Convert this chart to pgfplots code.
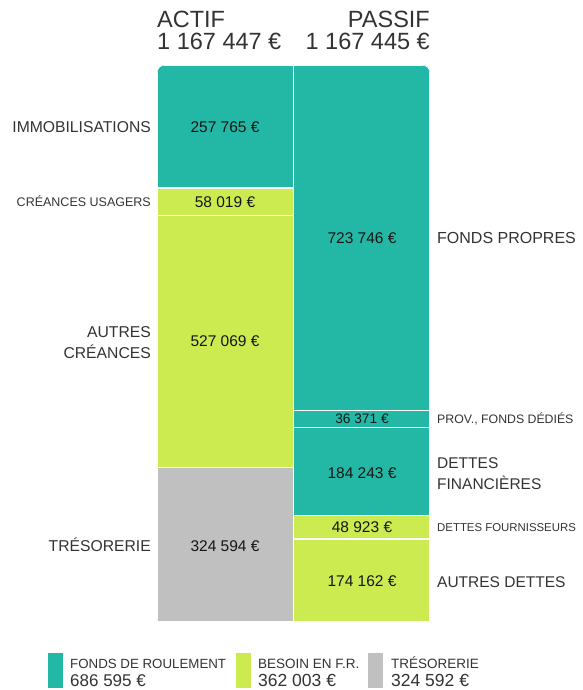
\documentclass[border=0pt]{standalone}
\usepackage{fontspec}
\setmainfont{Liberation Sans}
\usepackage{pgfplots}
\pgfplotsset{compat=1.18}
\definecolor{fr}{HTML}{23B8A5}
\definecolor{bfr}{HTML}{CCEB50}
\definecolor{treso}{HTML}{C0C0C0}
\definecolor{lbl}{HTML}{333333}
\definecolor{val}{HTML}{161616}
\newcommand\fs[1]{\fontsize{#1}{#1}\selectfont}
\begin{document}
\begin{tikzpicture}
\path (0pt,0pt) rectangle (582pt,-690pt);
\begin{scope}
\clip[rounded corners=4pt] (157pt,-400pt) -- (157pt,-622pt) -- (430pt,-622pt) -- (430pt,-400pt)
  [rounded corners=9pt] -- (430pt,-65pt) -- (157pt,-65pt) -- cycle;
\begin{axis}[
  at={(157pt,-622pt)}, anchor=south west,
  scale only axis, width=273pt, height=557pt,
  hide axis, clip=false,
  xmin=-0.5, xmax=1.5, ymin=0, ymax=1167447,
  y dir=reverse,
  ybar stacked, bar width=1,
  every axis plot/.append style={draw=white, line width=1.2pt},
]
% x=0 : ACTIF, x=1 : PASSIF
\addplot[fill=fr]    coordinates {(0,257765) (1,723746)}; % immobilisations / fonds propres
\addplot[fill=fr]    coordinates {(0,0) (1,36371)};       % prov., fonds dedies
\addplot[fill=fr]    coordinates {(0,0) (1,184243)};      % dettes financieres
\addplot[fill=bfr]   coordinates {(0,58019) (1,48923)};   % creances usagers / dettes fournisseurs
\addplot[fill=bfr]   coordinates {(0,527069) (1,0)};      % autres creances
\addplot[fill=treso] coordinates {(0,324594) (1,0)};      % tresorerie
\addplot[fill=bfr]   coordinates {(0,0) (1,174162)};      % autres dettes
\end{axis}
\end{scope}

\begin{scope}[x=1pt, y=-1pt]
% headers
\node[anchor=base west, text=lbl, inner sep=0] at (157,28) {\fs{23.5}ACTIF};
\node[anchor=base west, text=lbl, inner sep=0] at (157,50) {\fs{23.5}1 167 447 €};
\node[anchor=base east, text=lbl, inner sep=0] at (430,28) {\fs{23.5}PASSIF};
\node[anchor=base east, text=lbl, inner sep=0] at (430,50) {\fs{23.5}1 167 445 €};

% left labels
\begin{scope}[every node/.style={anchor=base east, text=lbl, inner sep=0}]
\node at (151,132) {\fs{15.7}IMMOBILISATIONS};
\node at (151,206) {\fs{12.5}CRÉANCES USAGERS};
\node at (151,337) {\fs{15.7}AUTRES};
\node at (151,358) {\fs{15.7}CRÉANCES};
\node at (151,551) {\fs{15.7}TRÉSORERIE};
\end{scope}

% right labels
\begin{scope}[every node/.style={anchor=base west, text=lbl, inner sep=0}]
\node at (437,243) {\fs{16}FONDS PROPRES};
\node at (437,423) {\fs{12.3}PROV., FONDS DÉDIÉS};
\node at (437,468) {\fs{15.5}DETTES};
\node at (437,489) {\fs{15.5}FINANCIÈRES};
\node at (437,531) {\fs{11.4}DETTES FOURNISSEURS};
\node at (437,587) {\fs{15.5}AUTRES DETTES};
\end{scope}

% values
\begin{scope}[every node/.style={anchor=base, text=val, inner sep=0}]
\node at (225,132) {\fs{15.5}257 765 €};
\node at (225,207) {\fs{15.5}58 019 €};
\node at (225,346) {\fs{15.5}527 069 €};
\node at (225,551) {\fs{15.5}324 594 €};
\node at (362,243) {\fs{15.5}723 746 €};
\node at (362,423) {\fs{13.7}36 371 €};
\node at (362,478) {\fs{15.5}184 243 €};
\node at (362,532) {\fs{15.5}48 923 €};
\node at (362,586) {\fs{15.5}174 162 €};
\end{scope}

% legend
\fill[fr]    (48,653) rectangle (63,688);
\fill[bfr]   (236,653) rectangle (251,688);
\fill[treso] (368,653) rectangle (383,688);
\begin{scope}[every node/.style={anchor=base west, text=lbl, inner sep=0}]
\node at (70,668)  {\fs{13.3}FONDS DE ROULEMENT};
\node at (70,686)  {\fs{17}686 595 €};
\node at (258,668) {\fs{13.5}BESOIN EN F.R.};
\node at (258,686) {\fs{17.5}362 003 €};
\node at (391,668) {\fs{13.5}TRÉSORERIE};
\node at (391,686) {\fs{17.5}324 592 €};
\end{scope}
\end{scope}
\end{tikzpicture}
\end{document}
